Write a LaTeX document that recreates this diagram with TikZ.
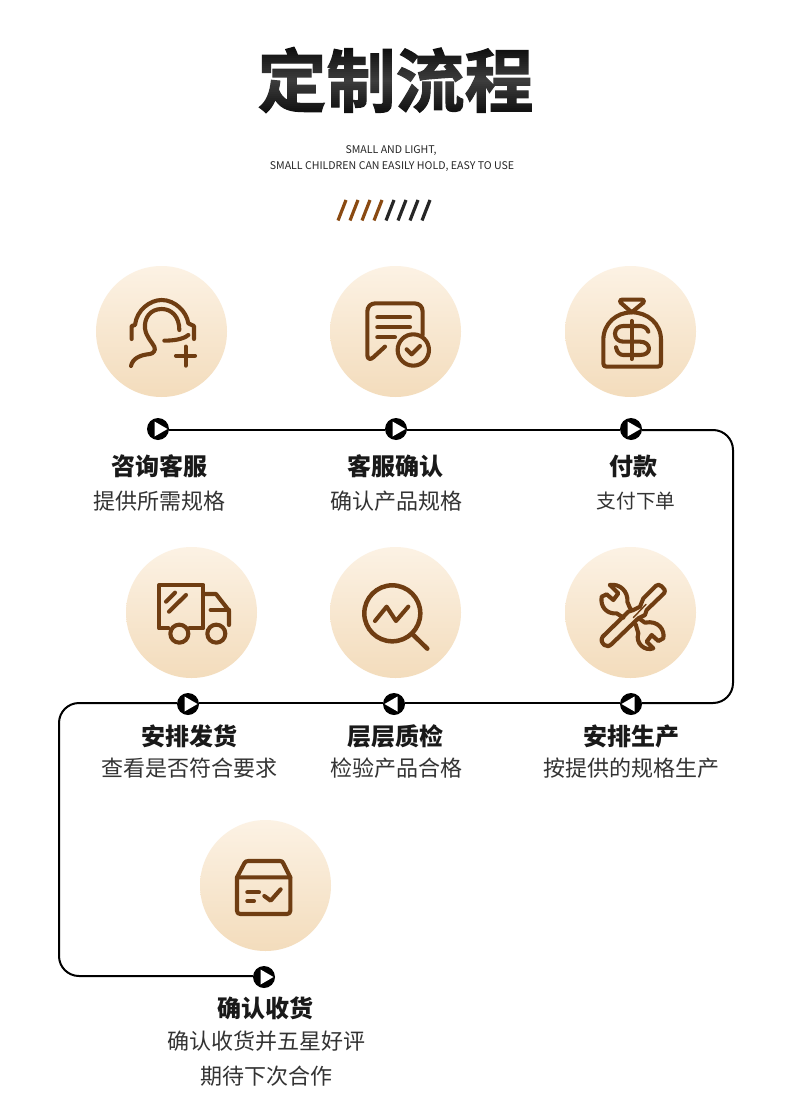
\documentclass[tikz,border=0pt]{standalone}
\usepackage{fontspec}
\setmainfont{Noto Sans CJK SC}
\newfontfamily\titlefont[FakeBold=1.6]{Noto Sans CJK SC Bold}
\usetikzlibrary{calc}
\definecolor{icon}{HTML}{6F3D12}
\definecolor{bartop}{HTML}{8A4A12}
\definecolor{discT}{HTML}{FCF2E4}
\definecolor{discB}{HTML}{F3DCBC}
\tikzset{
  x=1pt,y=-1pt,
  disc/.style={circle,minimum size=131pt,inner sep=0pt,top color=discT,bottom color=discB,shading angle=0},
  icn/.style={draw=icon,line width=4.1pt,line cap=round,line join=round,fill=none},
  markbase/.style={circle,fill=black,minimum size=22pt,inner sep=0pt},
  markR/.style={markbase,path picture={\fill[white,shift={(path picture bounding box.center)}] (-3.5,-7.5)--(-3.5,7.5)--(9.5,0)--cycle;}},
  markL/.style={markbase,path picture={\fill[white,shift={(path picture bounding box.center)}] (3.5,-7.5)--(3.5,7.5)--(-9.5,0)--cycle;}},
  head/.style={font=\fontsize{24}{26}\selectfont\bfseries,text=black!90,inner sep=0pt},
  sub/.style={font=\fontsize{22}{24}\selectfont,text=black!80,inner sep=0pt},
  en/.style={font=\fontsize{10.6}{12}\selectfont,text=black!85,inner sep=0pt},
  flow/.style={draw=black,line width=2pt,rounded corners=20pt},
  zoomA/.style={shift={(#1)},x=0.3333pt,y=-0.3333pt}
}
\begin{document}
\begin{tikzpicture}
\useasboundingbox (0,0) rectangle (790,1115);
\fill[white] (0,0) rectangle (790,1115);
% title
\node[inner sep=0pt,text=black!95] (title) at (395.5,80) {\titlefont\fontsize{69}{72}\selectfont 定制流程};
\foreach \k in {0,...,33}{
  \pgfmathsetmacro{\op}{max(0.005,0.2*(1-abs(\k-17)/17))}
  \fill[white,opacity=\op] (250,{46+2*\k}) rectangle (540,{48+2*\k});
}
\node[en] (en1) at (391,150.5) {SMALL AND LIGHT,};
\node[en] (en2) at (392,166.5) {SMALL CHILDREN CAN EASILY HOLD, EASY TO USE};
% slashes
\foreach \i in {0,1,2,3}{\draw[bartop,line width=3.2pt] ({338+12*\i},220.5)--({346+12*\i},200);}
\foreach \i in {4,5,6,7}{\draw[black!85,line width=3.2pt] ({338+12*\i},220.5)--({346+12*\i},200);}
% discs
\node[disc] (d1) at (161.5,331.5) {};
\node[disc] (d2) at (395.5,331.5) {};
\node[disc] (d3) at (630.5,331.5) {};
\node[disc] (d4) at (191.5,612.5) {};
\node[disc] (d5) at (395.5,612.5) {};
\node[disc] (d6) at (630.5,612.5) {};
\node[disc] (d7) at (265.5,885.5) {};
% markers
\node[markR] (m1) at (158,429) {};
\node[markR] (m2) at (396,429) {};
\node[markR] (m3) at (631,429) {};
\node[markL] (m6) at (631,704) {};
\node[markL] (m5) at (394,704) {};
\node[markR] (m4) at (188,704) {};
\node[markR] (m7) at (264,977) {};
\coordinate (c1) at (733,430);
\coordinate (c2) at (733,703);
\coordinate (c3) at (59,703);
\coordinate (c4) at (59,976);
\draw[flow] (m1.east |- c1) -- (m2.west |- c1);
\draw[flow] (m2.east |- c1) -- (m3.west |- c1);
\draw[flow] (m3.east |- c1) -- (c1) -- (c2) -- (m6.east |- c2);
\draw[flow] (m6.west |- c2) -- (m5.east |- c2);
\draw[flow] (m5.west |- c2) -- (m4.east |- c2);
\draw[flow] (m4.west |- c2) -- (c3) -- (c4) -- (m7.west |- c4);
% icon 1
\begin{scope}[zoomA={120,290}]
\draw[icn] (35,147)--(35,108)--(45,105) .. controls (50,60) and (90,30) .. (125,30) .. controls (165,30) and (200,65) .. (205,100) -- (222,108) -- (222,147);
\draw[icn] (178,120) .. controls (178,80) and (155,57) .. (125,57) .. controls (90,57) and (72,85) .. (75,115) .. controls (78,140) and (95,155) .. (103,170) .. controls (108,182) and (100,190) .. (90,192) .. controls (60,195) and (38,205) .. (33,228);
\draw[icn] (133,152) .. controls (160,152) and (190,148) .. (205,135);
\draw[icn] (197,170)--(197,227) (168,197)--(225,197);
\end{scope}
% icon 2
\begin{scope}[zoomA={90,260}]
\draw[icn] (998,225)--(998,155) .. controls (998,140) and (988,130) .. (973,130) -- (857,130) .. controls (842,130) and (832,140) .. (832,155) -- (832,285) .. controls (832,298) and (842,300) .. (850,292) -- (885,260);
\draw[icn] (862,172)--(960,172) (862,202)--(960,202) (862,232)--(915,232);
\draw[icn] (970,270) circle[radius=47];
\draw[icn] (950,268)--(965,283)--(990,258);
\end{scope}
% icon 3
\begin{scope}[zoomA={560,260}]
\draw[icn] (215,157)--(182,128) .. controls (177,122) and (180,119) .. (186,119) -- (246,119) .. controls (252,119) and (254,122) .. (250,128) -- (215,157);
\draw[icn] (130,240) .. controls (130,190) and (170,157) .. (215,157) .. controls (262,157) and (303,190) .. (303,240) -- (303,310) .. controls (303,317) and (300,320) .. (293,320) -- (140,320) .. controls (133,320) and (130,317) .. (130,310) -- cycle;
\draw[icn] (265,215) .. controls (262,205) and (252,198) .. (240,198) -- (190,198) .. controls (175,198) and (165,208) .. (165,221) .. controls (165,235) and (175,245) .. (190,245) -- (240,245) .. controls (257,245) and (267,255) .. (267,266) .. controls (267,277) and (257,285) .. (240,285) -- (190,285) .. controls (180,285) and (171,278) .. (168,262);
\draw[icn] (215,183)--(215,297);
\end{scope}
% icon 4
\begin{scope}[zoomA={120,540}]
\draw[icn] (145,265)--(117,265)--(117,135)--(250,135)--(250,265)--(208,265);
\draw[icn] (250,162)--(288,162)--(327,212)--(327,255);
\draw[icn] (272,210)--(327,210);
\draw[icn] (178,281) circle[radius=27];
\draw[icn] (289,281) circle[radius=27];
\draw[icn] (138,185)--(165,158) (147,215)--(198,165);
\end{scope}
% icon 5
\begin{scope}[zoomA={120,540}]
\draw[icn,line width=4.5pt] (817,220) circle[radius=84];
\draw[icn,line width=4.5pt] (880,285)--(922,326);
\draw[icn] (765,243)--(800,200)--(828,243)--(865,200);
\end{scope}
% icon 6
\begin{scope}[zoomA={590,575}]
\draw[icn] (115,110)--(38,185) .. controls (32,195) and (35,203) .. (43,210) .. controls (50,216) and (58,214) .. (65,207) -- (145,130) -- (165,120) -- (170,105) -- (222,55) .. controls (228,47) and (222,40) .. (215,34) .. controls (208,28) and (203,28) .. (197,33) -- (160,70) -- (150,95) -- (130,105) -- cycle;
\draw[icn,line width=1.4pt] (130,128)--(168,88);
\draw[icn] (60,30)--(85,55)--(70,75)--(50,58)--(35,65) .. controls (30,95) and (50,118) .. (80,115) -- (100,128);
\draw[icn] (60,30) .. controls (90,25) and (115,50) .. (112,80) -- (118,95) -- (122,102);
\draw[icn] (137,148) -- (145,175) .. controls (135,205) and (165,230) .. (190,220) -- (170,200) -- (185,180) -- (205,198) -- (220,190) .. controls (225,165) and (205,135) .. (165,143) -- (152,134);
\end{scope}
% icon 7
\begin{scope}[zoomA={50,810}]
\draw[icn] (561,202)--(583,160) .. controls (585,155) and (590,153) .. (595,153) -- (690,153) .. controls (695,153) and (698,155) .. (700,160) -- (721,202);
\draw[icn] (561,202)--(721,202)--(721,302) .. controls (721,309) and (717,312) .. (711,312) -- (571,312) .. controls (565,312) and (561,309) .. (561,302) -- cycle;
\draw[icn] (592,247)--(627,247) (592,273)--(612,273);
\draw[icn] (643,258)--(662,272)--(692,238);
\end{scope}
% labels
\node[head] (h1) at (159,466) {咨询客服};
\node[sub] (s1) at (159,501) {提供所需规格};
\node[head] (h2) at (395,466) {客服确认};
\node[sub] (s2) at (396,501) {确认产品规格};
\node[head] (h3) at (633.5,466) {付款};
\node[sub,font=\fontsize{19.7}{22}\selectfont] (s3) at (636,501) {支付下单};
\node[head] (h4) at (189,736) {安排发货};
\node[sub] (s4) at (189,768.5) {查看是否符合要求};
\node[head] (h5) at (395,736) {层层质检};
\node[sub] (s5) at (396,768.5) {检验产品合格};
\node[head] (h6) at (631,736) {安排生产};
\node[sub] (s6) at (631,768.5) {按提供的规格生产};
\node[head] (h7) at (265,1008.5) {确认收货};
\node[sub] (s7) at (266,1041.5) {确认收货并五星好评};
\node[sub] (s8) at (266,1076.5) {期待下次合作};
\end{tikzpicture}
\end{document}
